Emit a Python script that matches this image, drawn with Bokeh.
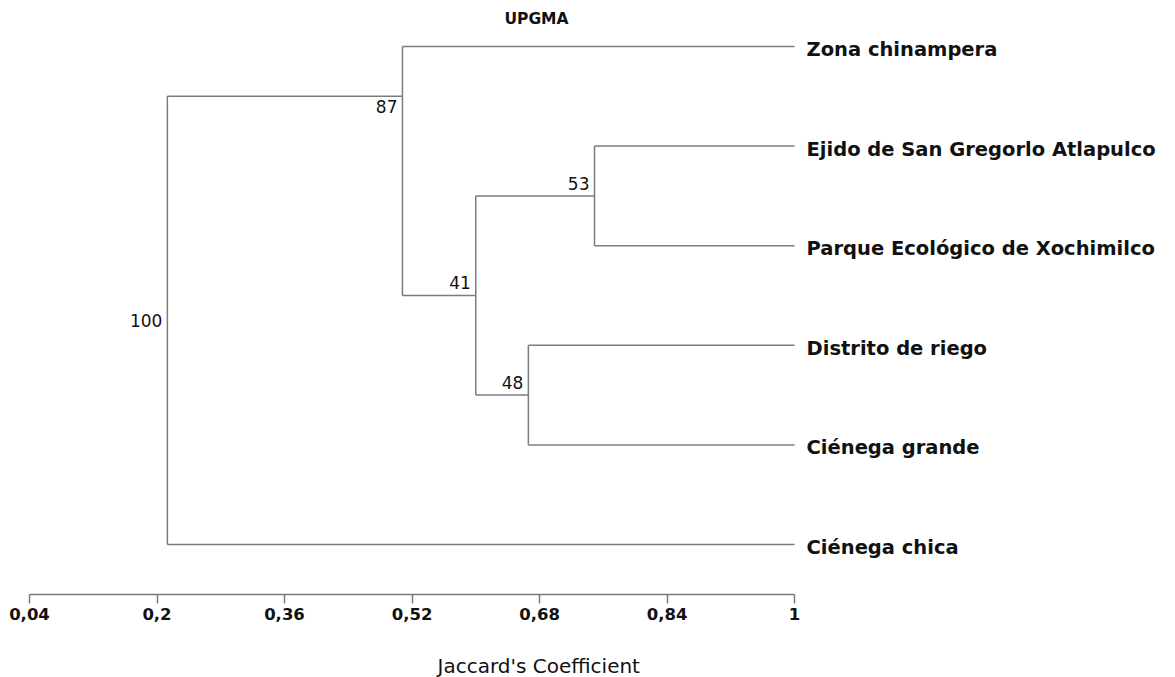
from bokeh.plotting import figure
from bokeh.models import Range1d, FixedTicker, Label, ColumnDataSource, LinearAxis, Title
from bokeh.core.properties import value
from bokeh.embed import file_html
from bokeh.resources import INLINE

# ---------------- data ----------------
leaf_names = [
    "Zona chinampera",
    "Ejido de San Gregorlo Atlapulco",
    "Parque Ecológico de Xochimilco",
    "Distrito de riego",
    "Ciénega grande",
    "Ciénega chica",
]
leaf_order = [0, 1, 2, 3, 4, 5]

node_ids = ["n53", "n48", "n41", "n87", "root"]
node_similarity = [0.749, 0.666, 0.600, 0.508, 0.213]
node_support = [53, 48, 41, 87, 100]
node_children = [("L1", "L2"), ("L3", "L4"), ("n53", "n48"), ("L0", "n41"), ("n87", "L5")]
node_link_y = [1.5, 3.5, 2.5, 0.5, None]
support_place = ["above", "above", "above", "below", "middle"]

tick_values = [0.04, 0.2, 0.36, 0.52, 0.68, 0.84, 1.0]
tick_labels = ["0,04", "0,2", "0,36", "0,52", "0,68", "0,84", "1"]

title_text = "UPGMA"
axis_title = "Jaccard's Coefficient"

# ---------------- build dendrogram geometry ----------------
pos = {}
for i, name in enumerate(leaf_names):
    pos[f"L{i}"] = (1.0, leaf_order[i])
for nid, sim, ly in zip(node_ids, node_similarity, node_link_y):
    pos[nid] = (sim, ly)

x0s, y0s, x1s, y1s = [], [], [], []
lab_x, lab_y, lab_t, lab_place = [], [], [], []
for nid, sim, kids, sup, place in zip(node_ids, node_similarity, node_children,
                                      node_support, support_place):
    ys = [pos[k][1] for k in kids]
    x0s.append(sim); y0s.append(min(ys)); x1s.append(sim); y1s.append(max(ys))
    for k in kids:
        cx, cy = pos[k]
        x0s.append(sim); y0s.append(cy); x1s.append(cx); y1s.append(cy)
    if place == "middle":
        ly = (min(ys) + max(ys)) / 2
    else:
        ly = pos[nid][1]
    lab_x.append(sim); lab_y.append(ly); lab_t.append(str(sup)); lab_place.append(place)

seg_src = ColumnDataSource(dict(x0=x0s, y0=y0s, x1=x1s, y1=y1s))

# ---------------- figure ----------------
W, H = 1175, 677
p = figure(width=W, height=H,
           x_range=Range1d(0.01616, 1.47807),
           y_range=Range1d(5.502, -0.4618),
           y_axis_location=None,
           min_border_left=10, min_border_right=0,
           min_border_top=0, min_border_bottom=83,
           toolbar_location=None, output_backend="svg")
p.xgrid.visible = False
p.ygrid.visible = False
p.outline_line_color = None
p.background_fill_color = "white"

LINE = "#7c7c7c"
p.segment("x0", "y0", "x1", "y1", source=seg_src, line_color=LINE, line_width=1.5)

# leaf labels
p.text(x=[1.0] * len(leaf_names), y=leaf_order, text=leaf_names,
       x_offset=12, y_offset=3, text_align="left", text_baseline="middle",
       text_font=value("DejaVu Sans"), text_font_style="bold",
       text_font_size="19.5px", text_color="#111111")

# support labels
for place in ["above", "below", "middle"]:
    idx = [i for i, pl in enumerate(lab_place) if pl == place]
    if not idx:
        continue
    if place == "above":
        yoff, base = -6, "bottom"
    elif place == "below":
        yoff, base = 4, "top"
    else:
        yoff, base = 0, "middle"
    p.text(x=[lab_x[i] for i in idx], y=[lab_y[i] for i in idx],
           text=[lab_t[i] for i in idx],
           x_offset=-5, y_offset=yoff, text_align="right", text_baseline=base,
           text_font=value("DejaVu Sans"), text_font_size="17px",
           text_color="#111111")

# x axis
ax = p.xaxis[0]
ax.bounds = (tick_values[0], tick_values[-1])
ax.ticker = FixedTicker(ticks=tick_values, minor_ticks=[])
ax.major_label_overrides = {v: s for v, s in zip(tick_values, tick_labels)}
ax.axis_line_color = LINE
ax.axis_line_width = 1.5
ax.major_tick_line_color = LINE
ax.major_tick_line_width = 1.5
ax.major_tick_out = 9
ax.major_tick_in = 0
ax.minor_tick_line_color = None
ax.major_label_standoff = 4
ax.major_label_text_font = "DejaVu Sans"
ax.major_label_text_font_style = "bold"
ax.major_label_text_font_size = "16.5px"
ax.major_label_text_color = "#111111"

# invisible spacer axis (one hidden tick), pushes the axis title down
spacer = LinearAxis(ticker=FixedTicker(ticks=[0.5], minor_ticks=[]),
                    axis_line_color=None, major_tick_line_color=None,
                    minor_tick_line_color=None, major_tick_out=29, major_tick_in=0,
                    major_label_standoff=0, major_label_text_font_size="0px",
                    major_label_text_alpha=0)
p.add_layout(spacer, "below")

# axis title
p.add_layout(Title(text=axis_title, align="left", offset=427, standoff=0,
                   text_font="DejaVu Sans", text_font_style="normal",
                   text_font_size="20px", text_color="#111111"), "below")

# title (inside the plot area, above the tree)
p.add_layout(Label(x=0.6762, y=-0.278, text=title_text, text_align="center",
                   text_baseline="middle", text_font="DejaVu Sans",
                   text_font_style="bold", text_font_size="15.5px",
                   text_color="#111111"))

open("out.html", "w").write(file_html(p, INLINE))
